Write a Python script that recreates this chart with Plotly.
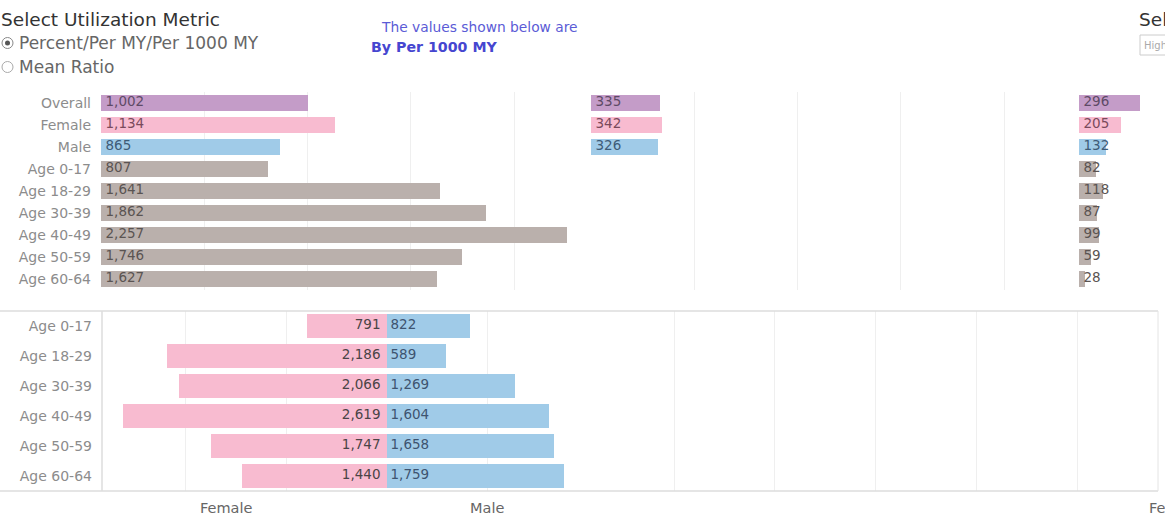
import plotly.graph_objects as go

W, H = 1165, 519

# ---------------- data ----------------
top_categories = ["Overall", "Female", "Male", "Age 0-17", "Age 18-29",
                  "Age 30-39", "Age 40-49", "Age 50-59", "Age 60-64"]
panel1_values = [1002, 1134, 865, 807, 1641, 1862, 2257, 1746, 1627]
panel2_values = [335, 342, 326, None, None, None, None, None, None]
panel3_values = [296, 205, 132, 82, 118, 87, 99, 59, 28]

age_groups = ["Age 0-17", "Age 18-29", "Age 30-39", "Age 40-49", "Age 50-59", "Age 60-64"]
female_values = [791, 2186, 2066, 2619, 1747, 1440]
male_values = [822, 589, 1269, 1604, 1658, 1759]

# ---------------- styles ----------------
PURPLE, PINK, BLUE, GRAY = "#C49CC8", "#F8BBD0", "#A0CBE8", "#BAB0AC"
T_PURPLE, T_PINK, T_BLUE, T_GRAY = "#5E4A66", "#7A4A5C", "#3E5C78", "#5A5452"
row_colors = [PURPLE, PINK, BLUE] + [GRAY] * 6
row_text_colors = [T_PURPLE, T_PINK, T_BLUE] + [T_GRAY] * 6
FONT = "DejaVu Sans"
GRID = "#EFEFEF"
LABEL_GRAY = "#8C8C8C"

scale_top = 0.2065  # px per unit
scale_bot = 0.1008


def px_x(p):
    return p / W


def px_y(p):
    return 1 - p / H


def fmt(v):
    return "" if v is None else f"{v:,}"


fig = go.Figure()

# ---------- top panels ----------
top_pad = 4.5 / scale_top
top_axes = [("x", panel1_values), ("x2", panel2_values), ("x3", panel3_values)]
for xa, vals in top_axes:
    fig.add_trace(go.Bar(
        x=vals, y=top_categories, orientation="h", xaxis=xa, yaxis="y",
        marker=dict(color=row_colors, line=dict(width=0)), width=0.77,
        hoverinfo="skip", showlegend=False))
    fig.add_trace(go.Scatter(
        x=[top_pad if v is not None else None for v in vals], y=top_categories,
        mode="text", text=[fmt(v) for v in vals], textposition="middle right",
        textfont=dict(family=FONT, size=13.5, color=row_text_colors),
        xaxis=xa, yaxis="y", hoverinfo="skip", showlegend=False, cliponaxis=False))

# ---------- bottom pyramid ----------
fig.add_trace(go.Bar(
    x=female_values, y=age_groups, orientation="h", xaxis="x4", yaxis="y2",
    marker=dict(color=PINK, line=dict(width=0)), width=0.77,
    hoverinfo="skip", showlegend=False))
fig.add_trace(go.Scatter(
    x=[6.5 / scale_bot] * len(female_values), y=age_groups, mode="text",
    text=[fmt(v) for v in female_values], textposition="middle left",
    textfont=dict(family=FONT, size=13.5, color="#4A4446"),
    xaxis="x4", yaxis="y2", hoverinfo="skip", showlegend=False, cliponaxis=False))
fig.add_trace(go.Bar(
    x=male_values, y=age_groups, orientation="h", xaxis="x5", yaxis="y2",
    marker=dict(color=BLUE, line=dict(width=0)), width=0.77,
    hoverinfo="skip", showlegend=False))
fig.add_trace(go.Scatter(
    x=[3.5 / scale_bot] * len(male_values), y=age_groups, mode="text",
    text=[fmt(v) for v in male_values], textposition="middle right",
    textfont=dict(family=FONT, size=13.5, color="#3E5470"),
    xaxis="x5", yaxis="y2", hoverinfo="skip", showlegend=False, cliponaxis=False))

top_dom_y = [px_y(290), px_y(92)]
bot_dom_y = [px_y(491), px_y(311)]


def top_xaxis(x0, x1, zero_px, ticks):
    lo = -(zero_px - x0) / scale_top
    hi = (x1 - zero_px) / scale_top
    return dict(domain=[px_x(x0), px_x(x1)], range=[lo, hi], anchor="y",
                showticklabels=False, ticks="", zeroline=False, showline=False,
                showgrid=True, gridcolor=GRID, gridwidth=1, tickvals=ticks)


axis_common = dict(showticklabels=False, ticks="", zeroline=False, showline=False,
                   showgrid=True, gridcolor=GRID, gridwidth=1)

layout = dict(
    width=W, height=H, margin=dict(l=0, r=0, t=0, b=0),
    paper_bgcolor="white", plot_bgcolor="white", bargap=0,
    font=dict(family=FONT, color="#555"),
    xaxis=top_xaxis(99, 589, 101, [500, 1000, 1500, 2000]),
    xaxis2=top_xaxis(589, 1077, 591, [500, 1000, 1500, 2000]),
    xaxis3=top_xaxis(1077, 1165, 1079, [500]),
    yaxis=dict(domain=top_dom_y, anchor="x", range=[8.5, -0.5], type="category",
               showgrid=False, zeroline=False, ticks="", showline=False,
               tickfont=dict(family=FONT, size=14, color=LABEL_GRAY), ticklabelstandoff=7),
    xaxis4=dict(domain=[px_x(102), px_x(387)], anchor="y2",
                range=[(387 - 102) / scale_bot, 0], tickvals=[1000, 2000], **axis_common),
    xaxis5=dict(domain=[px_x(387), px_x(588)], anchor="y2",
                range=[0, (588 - 387) / scale_bot], tickvals=[1000], **axis_common),
    xaxis6=dict(domain=[px_x(588), px_x(1158)], anchor="y2",
                range=[(1178 - 588) / scale_bot, (1178 - 1158) / scale_bot],
                tickvals=[1000, 2000, 3000, 4000, 5000], **axis_common),
    yaxis2=dict(domain=bot_dom_y, anchor="x4", range=[5.5, -0.5], type="category",
                showgrid=False, zeroline=False, ticks="", showline=False,
                tickfont=dict(family=FONT, size=14, color=LABEL_GRAY), ticklabelstandoff=9),
)
fig.update_layout(**layout)

# empty trace so xaxis6 (the empty pane) is drawn
fig.add_trace(go.Scatter(x=[None], y=[age_groups[0]], xaxis="x6", yaxis="y2",
                         mode="markers", showlegend=False, hoverinfo="skip"))

# ---------- pane borders ----------
border = dict(color="#DCDCDC", width=1.5)
fig.add_shape(type="line", xref="paper", yref="paper", x0=0, x1=px_x(1158),
              y0=px_y(311), y1=px_y(311), line=border)
fig.add_shape(type="line", xref="paper", yref="paper", x0=0, x1=px_x(1158),
              y0=px_y(491), y1=px_y(491), line=border)
fig.add_shape(type="line", xref="paper", yref="paper", x0=px_x(102), x1=px_x(102),
              y0=px_y(491), y1=px_y(311), line=border)
fig.add_shape(type="line", xref="paper", yref="paper", x0=px_x(1158), x1=px_x(1158),
              y0=px_y(491), y1=px_y(311), line=dict(color="#E4E4E4", width=1))


# ---------- texts ----------
def ann(text, x, y, size, color, xanchor="left", bold=False):
    fig.add_annotation(text=f"<b>{text}</b>" if bold else text, x=px_x(x), y=px_y(y),
                       xref="paper", yref="paper", xanchor=xanchor, yanchor="middle",
                       showarrow=False, font=dict(family=FONT, size=size, color=color))


ann("Select Utilization Metric", -1, 19, 18.5, "#333333")
ann("Percent/Per MY/Per 1000 MY", 17, 43, 17, "#666666")
ann("Mean Ratio", 17, 67, 17, "#666666")
ann("The values shown below are", 379, 27, 13.8, "#5B5BD6")
ann("By Per 1000 MY", 369, 47, 14.2, "#4646D0", bold=True)
ann("Select Highlight", 1137, 19, 18.5, "#333333")
ann("Highlight...", 1142, 45, 10, "#AAAAAA")
ann("Female", 226, 508, 14.5, "#666666", xanchor="center")
ann("Male", 487, 508, 14.5, "#666666", xanchor="center")
ann("Female", 1147, 508, 14.5, "#666666")

# radio buttons
fig.add_shape(type="circle", xref="paper", yref="paper",
              x0=px_x(2), x1=px_x(13), y0=px_y(48.5), y1=px_y(37.5),
              line=dict(color="#888", width=1), fillcolor="white")
fig.add_shape(type="circle", xref="paper", yref="paper",
              x0=px_x(5), x1=px_x(10), y0=px_y(45.5), y1=px_y(40.5),
              line=dict(color="#555", width=0), fillcolor="#555")
fig.add_shape(type="circle", xref="paper", yref="paper",
              x0=px_x(2), x1=px_x(13), y0=px_y(72.5), y1=px_y(61.5),
              line=dict(color="#AAA", width=1), fillcolor="white")
# dropdown box
fig.add_shape(type="rect", xref="paper", yref="paper",
              x0=px_x(1140), x1=px_x(1170), y0=px_y(55), y1=px_y(35),
              line=dict(color="#CCCCCC", width=1), fillcolor="white", layer="below")

fig.write_html("out.html",
               config={"displayModeBar": False},
               post_script="document.body.style.margin='0';"
                           "document.documentElement.style.overflow='hidden';")
